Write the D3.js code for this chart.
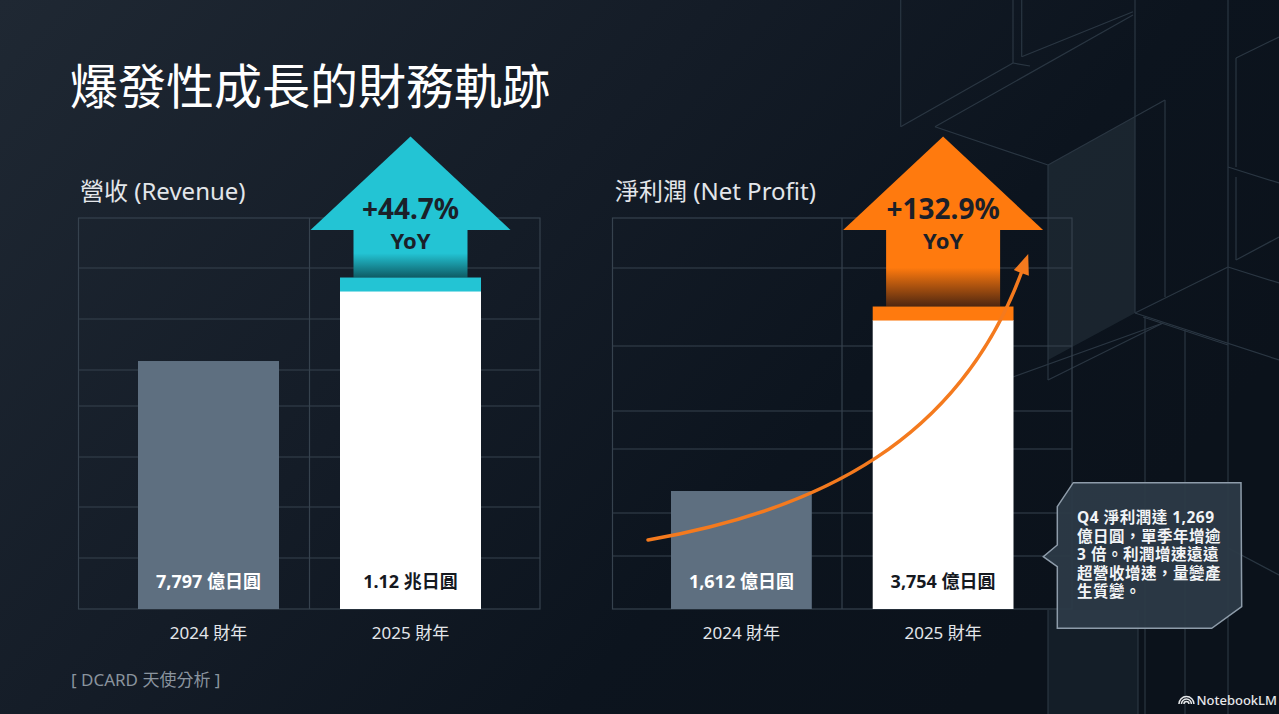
<!DOCTYPE html>
<html>
<head>
<meta charset="utf-8">
<script src="https://cdn.jsdelivr.net/npm/d3@7/dist/d3.min.js"></script>
<style>
  html, body { margin: 0; padding: 0; background: #111923; }
  svg { display: block; }
  text { font-family: "Noto Sans", "Noto Sans CJK TC", sans-serif; }
</style>
</head>
<body>
<script>
// ---------- DATA ----------
const categories = ["2024 財年", "2025 財年"];
const years = ["2024", "2025"];
const revenueValues = [7797, 11200];          // 億日圓
const revenueLabels = ["7,797 億日圓", "1.12 兆日圓"];
const profitValues = [1612, 3754];            // 億日圓
const profitLabels = ["1,612 億日圓", "3,754 億日圓"];
const growthLabels = ["+44.7%", "+132.9%"];
const growthSub = "YoY";
const chartTitles = ["營收 (Revenue)", "淨利潤 (Net Profit)"];
const pageTitle = "爆發性成長的財務軌跡";
const calloutLines = ["Q4 淨利潤達 1,269", "億日圓，單季年增逾", "3 倍。利潤增速遠遠", "超營收增速，量變產", "生質變。"];
const sourceLabel = "[ DCARD 天使分析 ]";
const brandLabel = "NotebookLM";

// ---------- LAYOUT ----------
const W = 1279, H = 714;
const svg = d3.select("body").append("svg").attr("width", W).attr("height", H);
const defs = svg.append("defs");

const bg = defs.append("linearGradient").attr("id", "bgGrad")
  .attr("x1", 0).attr("y1", 0).attr("x2", 1).attr("y2", 0.5);
bg.append("stop").attr("offset", 0).attr("stop-color", "#1f2833");
bg.append("stop").attr("offset", 0.45).attr("stop-color", "#141c27");
bg.append("stop").attr("offset", 0.75).attr("stop-color", "#0c141e");
bg.append("stop").attr("offset", 1).attr("stop-color", "#0b121b");
svg.append("rect").attr("width", W).attr("height", H).attr("fill", "url(#bgGrad)");

// decorative architecture wireframe on right
svg.append("polygon").attr("points", "1048,165 1135,117 1135,313 1048,360").attr("fill", "#1c2731").attr("opacity", 0.9);
svg.append("rect").attr("x", 1048).attr("y", 610).attr("width", 90).attr("height", 104).attr("fill", "#141e28");
const deco = svg.append("g").attr("stroke", "#2a3642").attr("stroke-width", 1.2).attr("fill", "none");
const decoLines = [
  [900.7,0,900.7,126.7],[900.7,126.7,1013,63],[1013,0,1013,63],[1021.7,0,1021.7,56.7],
  [1021.7,56.7,1133,11.7],[1013,63,1030,66],[935,126.7,1133,15],[935,126.7,1048,165],
  [1135,0,1135,313],[1048,165,1165,100],[1165,100,1165,297],[1048,165,1048,380],
  [1048,380,1163,323],[1135,313,1228,267],[1135,313,1279,360],[1228,0,1228,714],
  [1228,267,1279,283],[1236,58,1279,37],[1236,58,1236,167],[1228,167,1279,183],
  [1236,177,1236,260],[1236,260,1279,237],[1145,317,1145,714],[1185,330,1185,714],
  [1013,377,1163,323],[1143,317,1228,345],[1228,548,1279,575],[1048,610,1048,714],[1138,610,1138,714]
];
deco.selectAll("line").data(decoLines).join("line")
  .attr("x1", d => d[0]).attr("y1", d => d[1]).attr("x2", d => d[2]).attr("y2", d => d[3]);

// title
svg.append("text").attr("x", 70).attr("y", 104).attr("fill", "#ffffff")
  .attr("font-size", 48).attr("font-family", "'Noto Sans CJK TC', sans-serif").text(pageTitle);

const charts = [
  { title: chartTitles[0], values: revenueValues, labels: revenueLabels, growth: growthLabels[0],
    color: "#23c4d4", dark: "#0e5b64", frame: [78.5, 540], mid: 309.5, band: [138, 481],
    domain: [-4260, 14750], titleX: 80,
    grid: [0.1279, 0.2583, 0.3887, 0.4808, 0.6113, 0.7391, 0.8696] },
  { title: chartTitles[1], values: profitValues, labels: profitLabels, growth: growthLabels[1],
    color: "#ff7a0e", dark: "#4e2610", frame: [612.5, 1072], mid: 842, band: [671, 1013.5],
    domain: [134, 5032], titleX: 615,
    grid: [0.1279, 0.3274, 0.4936, 0.5908, 0.7545, 0.8645] }
];

const plotTop = 218, plotBottom = 609;
const barFills = ["#5e6f80", "#ffffff"];
const labelFills = ["#ffffff", "#15191f"];

charts.forEach((c, ci) => {
  const g = svg.append("g");
  const x = d3.scaleBand().domain(years).range(c.band).paddingInner(0.302).paddingOuter(0);
  const y = d3.scaleLinear().domain(c.domain).range([plotBottom, plotTop]);
  const bw = x.bandwidth();

  // subtitle
  g.append("text").attr("x", c.titleX).attr("y", 200).attr("fill", "#e3e6ea")
    .attr("font-size", 24).text(c.title);

  // grid
  const grid = g.append("g").attr("stroke", "#36424e").attr("stroke-width", 1.2).attr("fill", "none");
  grid.append("rect").attr("x", c.frame[0]).attr("y", plotTop)
    .attr("width", c.frame[1] - c.frame[0]).attr("height", plotBottom - plotTop);
  grid.append("line").attr("x1", c.mid).attr("x2", c.mid).attr("y1", plotTop).attr("y2", plotBottom);
  grid.selectAll("line.h").data(c.grid).join("line").attr("class", "h")
    .attr("x1", c.frame[0]).attr("x2", c.frame[1])
    .attr("y1", f => plotTop + f * (plotBottom - plotTop))
    .attr("y2", f => plotTop + f * (plotBottom - plotTop));

  // bars
  g.selectAll("rect.bar").data(c.values).join("rect").attr("class", "bar")
    .attr("x", (d, i) => x(years[i])).attr("width", bw)
    .attr("y", d => y(d)).attr("height", d => y.range()[0] - y(d))
    .attr("fill", (d, i) => barFills[i]);

  // value labels
  g.selectAll("text.val").data(c.labels).join("text").attr("class", "val")
    .attr("x", (d, i) => x(years[i]) + bw / 2).attr("y", 588)
    .attr("text-anchor", "middle").attr("font-size", 18).attr("font-weight", 700)
    .attr("fill", (d, i) => labelFills[i]).text(d => d);

  // category labels
  g.selectAll("text.cat").data(categories).join("text").attr("class", "cat")
    .attr("x", (d, i) => x(years[i]) + bw / 2).attr("y", 639)
    .attr("text-anchor", "middle").attr("font-size", 17).attr("fill", "#e3e6ea").text(d => d);

  // growth arrow on 2025 bar
  const cx = x(years[1]) + bw / 2;
  const top2025 = y(c.values[1]);
  const capH = 13.5;
  const shaftBottom = top2025 - capH;
  const tipY = 136.5, headBase = 230, headHalf = 100, shaftHalf = 57;

  const sg = defs.append("linearGradient").attr("id", "shaft" + ci)
    .attr("x1", 0).attr("y1", 0).attr("x2", 0).attr("y2", 1);
  sg.append("stop").attr("offset", 0).attr("stop-color", c.color);
  sg.append("stop").attr("offset", 0.5).attr("stop-color", c.color);
  sg.append("stop").attr("offset", 1).attr("stop-color", c.dark);

  g.append("rect").attr("x", cx - shaftHalf).attr("y", headBase - 1)
    .attr("width", shaftHalf * 2).attr("height", shaftBottom - headBase + 1)
    .attr("fill", "url(#shaft" + ci + ")");
  g.append("polygon").attr("fill", c.color)
    .attr("points", [[cx, tipY], [cx + headHalf, headBase], [cx - headHalf, headBase]].map(p => p.join(",")).join(" "));
  // cap
  g.append("rect").attr("x", x(years[1])).attr("width", bw).attr("y", shaftBottom).attr("height", capH + 0.5)
    .attr("fill", c.color);

  g.append("text").attr("x", cx).attr("y", 219).attr("text-anchor", "middle")
    .attr("font-size", 28).attr("font-weight", 700).attr("fill", "#1b2029").text(c.growth);
  g.append("text").attr("x", cx).attr("y", 249).attr("text-anchor", "middle")
    .attr("font-size", 22).attr("font-weight", 700).attr("fill", "#1b2029").text(growthSub);

  if (ci === 1) {
    // trend curve
    const x0 = x(years[0]) - 23, y0 = 540;
    const p = d3.path();
    p.moveTo(x0, y0);
    p.bezierCurveTo(820, 510, 960, 440, 1022, 271);
    g.append("path").attr("d", p.toString()).attr("fill", "none")
      .attr("stroke", "#f47a1e").attr("stroke-width", 3.5).attr("stroke-linecap", "round");
    const ex = 1022, ey = 271, dxv = 1022 - 960, dyv = 271 - 440;
    const len = Math.hypot(dxv, dyv), ux = dxv / len, uy = dyv / len;
    const px = -uy, py = ux;
    const tip = [ex + ux * 18, ey + uy * 18];
    g.append("polygon").attr("fill", "#f47a1e")
      .attr("points", [tip, [ex + px * 8 - ux * 2, ey + py * 8 - uy * 2], [ex - px * 8 - ux * 2, ey - py * 8 - uy * 2]]
        .map(q => q.join(",")).join(" "));
  }
});

// callout
const co = svg.append("g");
co.append("polygon")
  .attr("points", "1057.3,506.7 1073.3,482.7 1241,482.7 1241.7,606.7 1211.7,628.3 1057.3,628.3 1057.3,566.7 1043.3,556.7 1057.3,545")
  .attr("fill", "#2c3a47").attr("fill-opacity", 0.95).attr("stroke", "#8e9caa").attr("stroke-width", 1.5);
co.append("text").attr("x", 1077).attr("y", 523)
  .attr("font-size", 15.5).attr("letter-spacing", 0.5).attr("font-weight", 700).attr("fill", "#f2f4f6")
  .selectAll("tspan").data(calloutLines).join("tspan")
  .attr("x", 1077).attr("dy", (d, i) => i === 0 ? 0 : 18.5).text(d => d);

// footer
svg.append("text").attr("x", 71).attr("y", 686).attr("font-size", 17).attr("fill", "#8a949e").text(sourceLabel);

// brand
const brandText = svg.append("text").attr("x", 1277).attr("y", 705).attr("text-anchor", "end")
  .attr("font-size", 13).attr("font-weight", 500).attr("font-family", "Roboto, 'Noto Sans', sans-serif")
  .attr("fill", "#e6e8ea").text(brandLabel);
const bx = 1277 - brandText.node().getComputedTextLength() - 10;
const br = svg.append("g").attr("fill", "none").attr("stroke", "#e6e8ea").attr("stroke-width", 1.5)
  .attr("transform", `translate(${bx},704)`);
[2.5, 5, 7.5].forEach(r => {
  br.append("path").attr("d", d3.arc()({ innerRadius: r, outerRadius: r, startAngle: -Math.PI / 2, endAngle: Math.PI / 2 }));
});
</script>
</body>
</html>
